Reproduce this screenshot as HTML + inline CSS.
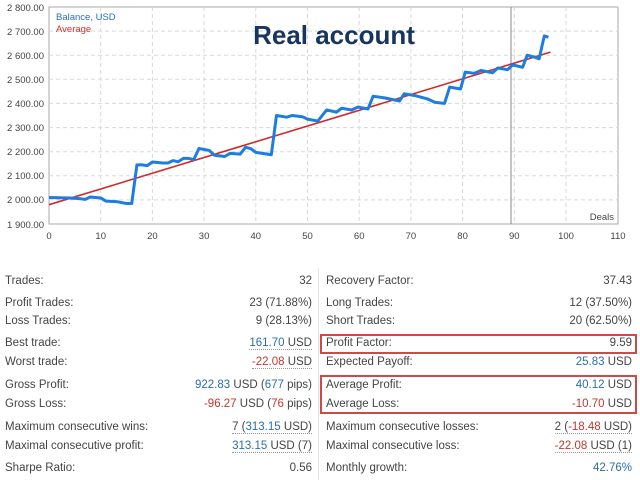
<!DOCTYPE html>
<html><head><meta charset="utf-8"><style>
body{margin:0;background:#fff;width:640px;height:480px;overflow:hidden;font-family:"Liberation Sans",sans-serif;position:relative}
.r{position:absolute;font-size:11.5px;color:#444;white-space:nowrap;line-height:14px}
.v{text-align:right}
.b{color:#2a6fa8}.n{color:#c0392b}
.u{border-bottom:1px dotted #999}
.box{position:absolute;border:2px solid #d04848;left:320px;width:313px}
</style></head><body>
<svg width="640" height="260" style="position:absolute;left:0;top:0" font-family="Liberation Sans, sans-serif">
<rect x="49" y="7" width="569" height="217" fill="#fff" stroke="#aaa"/>
<g stroke="#d8d8d8" stroke-dasharray="4,3">
<line x1="49" x2="618" y1="31.1" y2="31.1"/><line x1="49" x2="618" y1="55.2" y2="55.2"/><line x1="49" x2="618" y1="79.3" y2="79.3"/><line x1="49" x2="618" y1="103.4" y2="103.4"/><line x1="49" x2="618" y1="127.6" y2="127.6"/><line x1="49" x2="618" y1="151.7" y2="151.7"/><line x1="49" x2="618" y1="175.8" y2="175.8"/><line x1="49" x2="618" y1="199.9" y2="199.9"/>
<line y1="7" y2="224" x1="100.7" x2="100.7"/><line y1="7" y2="224" x1="152.4" x2="152.4"/><line y1="7" y2="224" x1="204.1" x2="204.1"/><line y1="7" y2="224" x1="255.8" x2="255.8"/><line y1="7" y2="224" x1="307.5" x2="307.5"/><line y1="7" y2="224" x1="359.2" x2="359.2"/><line y1="7" y2="224" x1="410.9" x2="410.9"/><line y1="7" y2="224" x1="462.6" x2="462.6"/><line y1="7" y2="224" x1="514.3" x2="514.3"/><line y1="7" y2="224" x1="566" x2="566"/>
</g>
<line x1="511" x2="511" y1="7" y2="224" stroke="#888"/>
<g font-size="9.5" fill="#444" text-anchor="end">
<text x="44" y="11">2 800.00</text><text x="44" y="35">2 700.00</text><text x="44" y="59">2 600.00</text><text x="44" y="83">2 500.00</text><text x="44" y="107">2 400.00</text><text x="44" y="131">2 300.00</text><text x="44" y="155">2 200.00</text><text x="44" y="179">2 100.00</text><text x="44" y="203">2 000.00</text><text x="44" y="228">1 900.00</text>
</g>
<g font-size="9.5" fill="#444" text-anchor="middle">
<text x="49" y="239">0</text><text x="100.7" y="239">10</text><text x="152.4" y="239">20</text><text x="204.1" y="239">30</text><text x="255.8" y="239">40</text><text x="307.5" y="239">50</text><text x="359.2" y="239">60</text><text x="410.9" y="239">70</text><text x="462.6" y="239">80</text><text x="514.3" y="239">90</text><text x="566" y="239">100</text><text x="618" y="239">110</text>
</g>
<text x="614" y="220" font-size="9.5" fill="#444" text-anchor="end">Deals</text>
<text x="56" y="20" font-size="9.5" fill="#2a6fc0">Balance, USD</text>
<text x="56" y="32" font-size="9.5" fill="#d03030">Average</text>
<text x="334" y="44" font-size="26" font-weight="bold" fill="#17355e" text-anchor="middle">Real account</text>
<g transform="matrix(5.17 0 0 -0.2411 49 682.08)" fill="none">
<line x1="0" y1="1980" x2="97" y2="2613" stroke="#d02a2a" stroke-width="1.6" vector-effect="non-scaling-stroke"/>
<polyline vector-effect="non-scaling-stroke" stroke="#1e7de0" stroke-width="3" stroke-linejoin="round" points="0,2010 4,2008 6,2005 7,2002 8,2012 10,2008 11,1995 13,1993 15,1985 16,1985 17,2145 18,2145 19,2142 20,2157 22,2153 23,2153 24,2163 25,2158 26,2172 27,2172 28,2167 29,2213 31,2205 32,2185 34,2180 35,2193 37,2190 38,2218 39,2213 40,2197 43,2187 44,2350 46,2343 47,2350 49,2345 50,2335 52,2327 53.7,2373 55.6,2364 56.6,2380 58.5,2373 59.8,2385 61.7,2377 62.7,2430 64.9,2423 67.8,2410 68.7,2440 70.7,2433 73.3,2418 74.6,2405 76.5,2400 77.5,2468 79.6,2460 80.5,2530 82.3,2525 83.6,2537 85.8,2527 86.8,2547 88.7,2540 89.7,2560 91.6,2550 92.5,2600 93.9,2592 94.8,2585 95.8,2680 96.6,2675"/>
</g>
</svg>
<div style="position:absolute;left:318px;top:268px;width:1px;height:212px;background:#e4e4e4"></div>
<div class="box" style="top:334px;height:16px"></div>
<div class="box" style="top:375px;height:35px"></div>

<div class="r" style="left:5px;top:274px">Trades:</div><div class="r v" style="right:328px;top:274px">32</div>
<div class="r" style="left:5px;top:296px">Profit Trades:</div><div class="r v" style="right:328px;top:296px">23 (71.88%)</div>
<div class="r" style="left:5px;top:314px">Loss Trades:</div><div class="r v" style="right:328px;top:314px">9 (28.13%)</div>
<div class="r" style="left:5px;top:336px">Best trade:</div><div class="r v" style="right:328px;top:336px"><span class="u"><span class="b">161.70</span> USD</span></div>
<div class="r" style="left:5px;top:355px">Worst trade:</div><div class="r v" style="right:328px;top:355px"><span class="u"><span class="n">-22.08</span> USD</span></div>
<div class="r" style="left:5px;top:378px">Gross Profit:</div><div class="r v" style="right:328px;top:378px"><span class="b">922.83</span> USD (<span class="b">677</span> pips)</div>
<div class="r" style="left:5px;top:397px">Gross Loss:</div><div class="r v" style="right:328px;top:397px"><span class="n">-96.27</span> USD (<span class="n">76</span> pips)</div>
<div class="r" style="left:5px;top:420px">Maximum consecutive wins:</div><div class="r v" style="right:328px;top:420px"><span class="u">7 (<span class="b">313.15</span> USD)</span></div>
<div class="r" style="left:5px;top:439px">Maximal consecutive profit:</div><div class="r v" style="right:328px;top:439px"><span class="u"><span class="b">313.15</span> USD (7)</span></div>
<div class="r" style="left:5px;top:461px">Sharpe Ratio:</div><div class="r v" style="right:328px;top:461px">0.56</div>

<div class="r" style="left:326px;top:274px">Recovery Factor:</div><div class="r v" style="right:8px;top:274px">37.43</div>
<div class="r" style="left:326px;top:296px">Long Trades:</div><div class="r v" style="right:8px;top:296px">12 (37.50%)</div>
<div class="r" style="left:326px;top:314px">Short Trades:</div><div class="r v" style="right:8px;top:314px">20 (62.50%)</div>
<div class="r" style="left:326px;top:336px">Profit Factor:</div><div class="r v" style="right:8px;top:336px">9.59</div>
<div class="r" style="left:326px;top:355px">Expected Payoff:</div><div class="r v" style="right:8px;top:355px"><span class="b">25.83</span> USD</div>
<div class="r" style="left:326px;top:378px">Average Profit:</div><div class="r v" style="right:8px;top:378px"><span class="b">40.12</span> USD</div>
<div class="r" style="left:326px;top:397px">Average Loss:</div><div class="r v" style="right:8px;top:397px"><span class="n">-10.70</span> USD</div>
<div class="r" style="left:326px;top:420px">Maximum consecutive losses:</div><div class="r v" style="right:8px;top:420px"><span class="u">2 (<span class="n">-18.48</span> USD)</span></div>
<div class="r" style="left:326px;top:439px">Maximal consecutive loss:</div><div class="r v" style="right:8px;top:439px"><span class="u"><span class="n">-22.08</span> USD (1)</span></div>
<div class="r" style="left:326px;top:461px">Monthly growth:</div><div class="r v" style="right:8px;top:461px"><span class="b">42.76%</span></div>
</body></html>
